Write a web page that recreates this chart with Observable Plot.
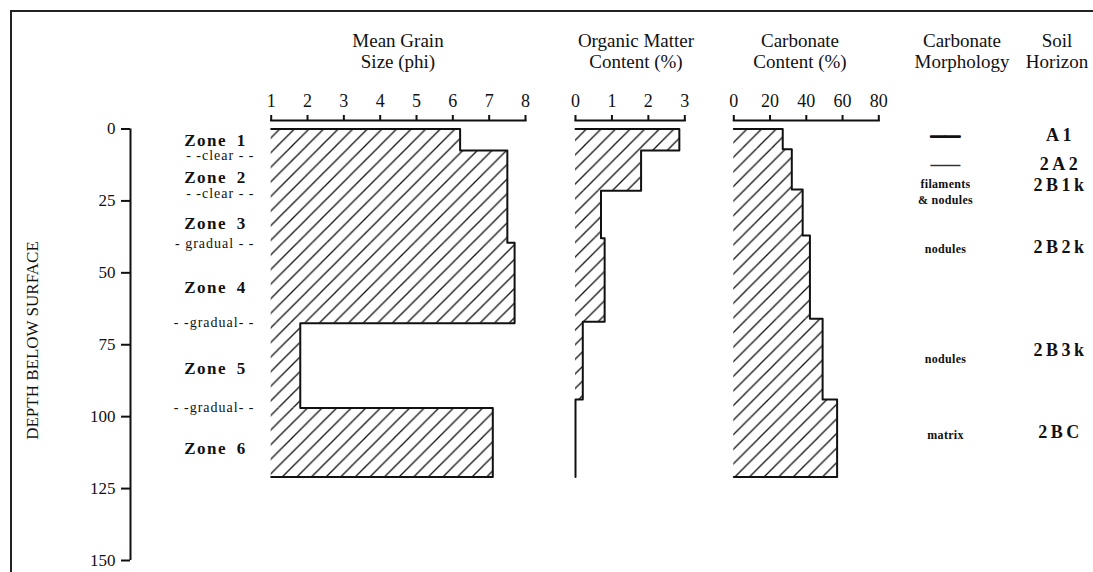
<!DOCTYPE html>
<html>
<head>
<meta charset="utf-8">
<script src="https://cdn.jsdelivr.net/npm/d3@7"></script>
<script src="https://cdn.jsdelivr.net/npm/@observablehq/plot@0.6"></script>
<style>
  body { margin: 0; background: #fff; }
  #chart { position: relative; width: 1093px; height: 572px; overflow: hidden;
           font-family: "Liberation Serif", "Times New Roman", serif; color: #111; }
  #chart svg.plot-layer { position: absolute; left: 0; top: 0; overflow: visible; }
  .border { position: absolute; left: 10px; top: 10px; width: 1100px; height: 600px;
            border-top: 2px solid #222; border-left: 2px solid #222; }
  .title { position: absolute; font-size: 19px; line-height: 21px; text-align: center;
           transform: translateX(-50%); white-space: nowrap; }
  .zones text { letter-spacing: 1.5px; word-spacing: 4px; }
  .bounds text { letter-spacing: 1px; }
  .horizon text { letter-spacing: 3.5px; }
  .morph text { letter-spacing: 0.3px; }
</style>
</head>
<body>
<svg width="0" height="0" style="position:absolute">
  <defs>
    <pattern id="hatch" patternUnits="userSpaceOnUse" width="14.6" height="14.6">
      <path d="M0,14.6 L14.6,0 M-3.65,3.65 L3.65,-3.65 M10.95,18.25 L18.25,10.95"
            stroke="#111" stroke-width="1.3" fill="none"/>
    </pattern>
  </defs>
</svg>
<div id="chart"><div class="border"></div></div>
<script>
// ---------- data ----------
const depthTicks = [0, 25, 50, 75, 100, 125, 150];
const grainTicks = [1, 2, 3, 4, 5, 6, 7, 8];
const organicTicks = [0, 1, 2, 3];
const carbonateTicks = [0, 20, 40, 60, 80];

const grainTop    = [0, 7.5, 39.5, 67.5, 97];
const grainBottom = [7.5, 39.5, 67.5, 97, 121];
const grainValue  = [6.2, 7.5, 7.7, 1.8, 7.1];

const organicTop    = [0, 7.5, 21.5, 38, 67, 94];
const organicBottom = [7.5, 21.5, 38, 67, 94, 121];
const organicValue  = [2.85, 1.8, 0.7, 0.8, 0.2, 0];

const carbonateTop    = [0, 7, 21, 37, 66, 94];
const carbonateBottom = [7, 21, 37, 66, 94, 121];
const carbonateValue  = [27, 32, 38, 42, 49, 57];

const zoneLabels = ["Zone 1", "Zone 2", "Zone 3", "Zone 4", "Zone 5", "Zone 6"];
const zoneDepths = [4, 16.8, 33, 55, 83.4, 111.2];
const boundaryLabels = ["- -clear - -", "- -clear - -", "- gradual - -", "- -gradual- -", "- -gradual- -"];
const boundaryDepths = [9.2, 22.5, 39.9, 67.4, 96.9];

const morphLabels = ["——", "——", "filaments\n& nodules", "nodules", "nodules", "matrix"];
const morphDepths = [2.3, 12.2, 21.4, 41.2, 79.4, 105.8];
const horizonLabels = ["A1", "2A2", "2B1k", "2B2k", "2B3k", "2BC"];
const horizonDepths = [2.3, 12.3, 19.6, 41.2, 77, 105.5];

const titles = [
  {lines: ["Mean Grain", "Size (phi)"], cx: 398},
  {lines: ["Organic Matter", "Content (%)"], cx: 636},
  {lines: ["Carbonate", "Content (%)"], cx: 800},
  {lines: ["Carbonate", "Morphology"], cx: 962},
  {lines: ["Soil", "Horizon"], cx: 1057}
];

// ---------- layout ----------
const W = 1093, H = 572;
const Y = {domain: [depthTicks[0], depthTicks[depthTicks.length - 1]], range: [128.5, 560], axis: null};
const FONT = '"Liberation Serif", "Times New Roman", serif';
const chart = document.getElementById("chart");

function layer(opts) {
  const svg = Plot.plot({
    width: W, height: H, marginTop: 120, marginBottom: 12,
    y: Y,
    style: {fontFamily: FONT, background: "transparent", color: "#111", overflow: "visible"},
    ...opts
  });
  svg.classList.add("plot-layer");
  chart.appendChild(svg);
  return svg;
}

function panel(ticks, tops, bottoms, values, left, right) {
  const base = ticks[0];
  const rows = values.map((v, i) => ({x1: base, x2: v, y1: tops[i], y2: bottoms[i]}));
  const outline = [{x: base, y: tops[0]}];
  values.forEach((v, i) => outline.push({x: v, y: tops[i]}, {x: v, y: bottoms[i]}));
  outline.push({x: base, y: bottoms[bottoms.length - 1]});
  layer({
    marginLeft: left, marginRight: W - right,
    x: {domain: [ticks[0], ticks[ticks.length - 1]]},
    marks: [
      Plot.rect(rows, {x1: "x1", x2: "x2", y1: "y1", y2: "y2", fill: "url(#hatch)"}),
      Plot.line(outline, {x: "x", y: "y", stroke: "#111", strokeWidth: 2}),
      Plot.frame({anchor: "top", stroke: "#111", strokeWidth: 2}),
      Plot.axisX(ticks, {anchor: "top", tickSize: 6, tickPadding: 8, fontSize: 18,
                         strokeWidth: 2, label: null})
    ]
  });
}

// depth axis
layer({
  marginLeft: 130, marginRight: W - 300,
  x: {domain: [0, 1], axis: null},
  marks: [
    Plot.ruleX([0], {y1: depthTicks[0], y2: depthTicks[depthTicks.length - 1], stroke: "#111", strokeWidth: 2}),
    Plot.axisY(depthTicks, {anchor: "left", tickSize: 9, tickPadding: 6, fontSize: 17, strokeWidth: 2,
      label: "DEPTH BELOW SURFACE", labelAnchor: "center", labelOffset: 105, labelArrow: "none"})
  ]
});

// zone labels
layer({
  className: "zones", marginLeft: 130, marginRight: W - 300,
  marks: [Plot.text(zoneLabels.map((t, i) => ({t, d: zoneDepths[i]})),
    {y: "d", text: "t", frameAnchor: "middle", fontSize: 17, fontWeight: "bold"})]
});
layer({
  className: "bounds", marginLeft: 130, marginRight: W - 300,
  marks: [Plot.text(boundaryLabels.map((t, i) => ({t, d: boundaryDepths[i]})),
    {y: "d", text: "t", frameAnchor: "middle", textAnchor: "end", dx: 39, fontSize: 14})]
});

panel(grainTicks, grainTop, grainBottom, grainValue, 270.7, 525);
panel(organicTicks, organicTop, organicBottom, organicValue, 575, 684.3);
panel(carbonateTicks, carbonateTop, carbonateBottom, carbonateValue, 733.3, 878.3);

// morphology column
const morphRows = morphLabels.map((t, i) => ({t, d: morphDepths[i], k: i}));
const isDash = t => t === "——";
layer({
  className: "morph", marginLeft: 900, marginRight: W - 990,
  marks: [
    Plot.text(morphRows, {filter: r => !isDash(r.t), y: "d", text: "t", frameAnchor: "middle",
      fontSize: 12, fontWeight: "bold", lineHeight: 1.35}),
    Plot.text(morphRows, {filter: r => isDash(r.t) && r.k === 0, y: "d", text: "t", frameAnchor: "middle",
      fontSize: 14.5, fontWeight: "bold", fill: "#111", stroke: "#111", strokeWidth: 1.6}),
    Plot.text(morphRows, {filter: r => isDash(r.t) && r.k > 0, y: "d", text: "t", frameAnchor: "middle",
      fontSize: 14.5, fontWeight: "normal", fill: "#333", stroke: "#333", strokeWidth: 0.6})
  ]
});

// horizon column
layer({
  className: "horizon", marginLeft: 1030, marginRight: W - 1090,
  marks: [Plot.text(horizonLabels.map((t, i) => ({t, d: horizonDepths[i]})),
    {y: "d", text: "t", frameAnchor: "middle", fontSize: 18, fontWeight: "bold"})]
});

// titles
titles.forEach(t => {
  const div = document.createElement("div");
  div.className = "title";
  div.style.left = t.cx + "px";
  div.style.top = "30px";
  div.innerHTML = t.lines.join("<br>");
  chart.appendChild(div);
});
</script>
</body>
</html>
